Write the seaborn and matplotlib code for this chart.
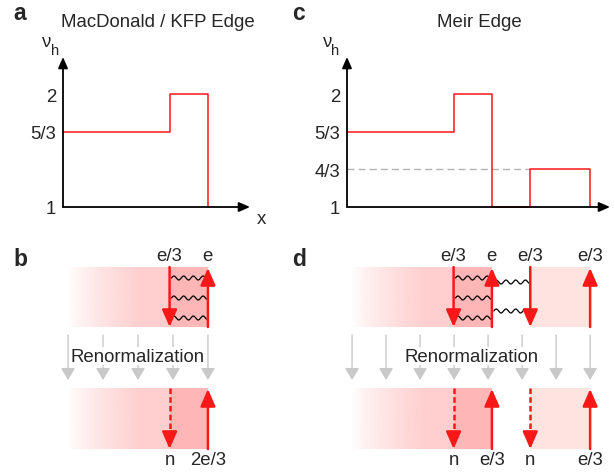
import numpy as np
import matplotlib
matplotlib.use("Agg")
import matplotlib.pyplot as plt
from matplotlib.colors import to_rgb
import pandas as pd
import seaborn as sns

# ---------------- data ----------------
# filling factor profile nu_h(x) across the edge (step positions in x units)
kfp_x = [0.0, 5.7, 7.75]
kfp_nu = [5 / 3, 2.0, 1.0]
meir_x = [0.0, 5.7, 7.75, 9.8, 13.0]
meir_nu = [5 / 3, 2.0, 1.0, 4 / 3, 1.0]

kfp_ticks = [1.0, 5 / 3, 2.0]
kfp_ticklabels = ["1", "5/3", "2"]
meir_ticks = [1.0, 4 / 3, 5 / 3, 2.0]
meir_ticklabels = ["1", "4/3", "5/3", "2"]

# edge modes at each step (direction, charge label) before / after renormalization
kfp_bare = [("down", "e/3"), ("up", "e")]
kfp_renorm = [("neutral", "n"), ("up", "2e/3")]
meir_bare = [("down", "e/3"), ("up", "e"), ("down", "e/3"), ("up", "e/3")]
meir_renorm = [("neutral", "n"), ("up", "e/3"), ("neutral", "n"), ("up", "e/3")]

# interacting pairs of modes (edge index i, edge index j, number of wiggles)
kfp_links = [(0, 1, 3)]
meir_links = [(0, 1, 3), (1, 2, 2)]

# ---------------- style ----------------
sns.set_theme(style="white")
plt.rcParams["font.family"] = ["Liberation Sans", "DejaVu Sans"]
FS = 13.4
RED = "#f81818"
GREY = "#c9c9c9"
FILL = {6: "#ffb6b6", 5: "#ffcfcf", 4: "#ffe3e1"}  # keyed by 3*nu

W, H = 615, 477
PX = 18.7  # pixels per x unit
fig = plt.figure(figsize=(W / 100, H / 100), dpi=100)


def rect(left, top, width, height):
    return [left / W, 1 - (top + height) / H, width / W, height / H]


def ftext(x, y, s, **kw):
    fig.text(x / W, 1 - y / H, s, **kw)


# ---------------- top panels: nu_h profiles ----------------
def profile_panel(left, width, xs, nus, ticks, ticklabels, dashed_level=None):
    ax = fig.add_axes(rect(left, 58, width, 150))
    df = pd.DataFrame({"x": xs, "nu": nus})
    sns.lineplot(data=df, x="x", y="nu", ax=ax, drawstyle="steps-post",
                 color=RED, lw=1.1, estimator=None, sort=False, clip_on=False,
                 zorder=2)
    if dashed_level is not None:
        lvl, x_end = dashed_level
        ax.plot([0, x_end], [lvl, lvl], color="#b3b3b3", lw=1.0,
                ls=(0, (5, 3)), zorder=1)
    ax.set_xlim(0, width / PX)
    ax.set_ylim(1, 1 + 150 / 113)
    ax.set_xlabel("")
    ax.set_ylabel("")
    ax.set_xticks([])
    ax.set_yticks(ticks)
    ax.set_yticklabels(ticklabels)
    ax.tick_params(axis="y", length=0, pad=5, labelsize=FS)
    for s in ax.spines.values():
        s.set_visible(False)
    ap = dict(arrowstyle="-|>,head_length=0.55,head_width=0.24",
              mutation_scale=12, lw=1.3, color="black", shrinkA=0, shrinkB=0)
    ax.annotate("", xy=(0, 1), xytext=(0, 0), xycoords="axes fraction",
                arrowprops=ap, annotation_clip=False, zorder=6)
    ax.annotate("", xy=(1, 0), xytext=(0, 0), xycoords="axes fraction",
                arrowprops=ap, annotation_clip=False, zorder=6)
    return ax


profile_panel(63, 187, kfp_x, kfp_nu, kfp_ticks, kfp_ticklabels)
profile_panel(347, 263, meir_x, meir_nu, meir_ticks, meir_ticklabels,
              dashed_level=(meir_nu[3], meir_x[3]))

# axis labels, titles, panel letters
for x0 in (42, 323):
    ftext(x0, 47, "ν", fontsize=FS, ha="left", va="baseline")
    ftext(x0 + 8.5, 55, "h", fontsize=FS * 0.8, ha="left", va="baseline")
ftext(261, 224, "x", fontsize=FS, ha="center", va="baseline")
ftext(158, 27, "MacDonald / KFP Edge", fontsize=FS, ha="center", va="baseline")
ftext(479, 27, "Meir Edge", fontsize=FS, ha="center", va="baseline")
for letter, (lx, ly) in {"a": (13, 19.5), "c": (292, 19.5),
                         "b": (13, 266), "d": (292, 266)}.items():
    ftext(lx, ly, letter, fontsize=16.5, fontweight="bold",
          ha="left", va="baseline")

# ---------------- bottom panels: edge modes ----------------
TOP_BAND = (268, 328)
BOT_BAND = (389, 450)
BAND_START = 0.27


def fill_band(ax, xs, nus, band):
    y_top, y_bot = band
    for i in range(len(xs) - 1):
        key = int(round(3 * nus[i]))
        if key not in FILL:
            continue
        c = to_rgb(FILL[key])
        if i == 0:
            x0, x1 = BAND_START, xs[1]
            n = 400
            gx = np.linspace(x0, x1, n)
            t = np.clip((gx - x0) / (72 / PX), 0, 1) ** 0.75
            img = np.ones((1, n, 4))
            img[..., :3] = c
            img[0, :, 3] = t
            ax.imshow(img, extent=(x0, x1, y_bot, y_top), aspect="auto",
                      interpolation="bilinear", zorder=0)
        else:
            ax.fill_between([xs[i], xs[i + 1]], y_top, y_bot, color=c,
                            lw=0, zorder=0)


def red_arrow(ax, x, tail, tip, dashed=False):
    hp = dict(arrowstyle="-|>,head_length=0.8,head_width=0.35",
              mutation_scale=13, lw=1.8, color=RED, shrinkA=0, shrinkB=0)
    if dashed:
        sgn = 1 if tip > tail else -1
        ax.plot([x, x], [tail, tip - sgn * 12], color=RED, lw=1.8,
                ls=(0, (2.2, 1.3)), solid_capstyle="butt", zorder=3)
        ax.annotate("", xy=(x, tip), xytext=(x, tip - sgn * 11),
                    arrowprops=hp, zorder=3)
    else:
        ax.annotate("", xy=(x, tip), xytext=(x, tail), arrowprops=hp,
                    zorder=3)


def draw_modes(ax, edges, modes, band, label_y):
    y_top, y_bot = band
    for x, (kind, lab) in zip(edges, modes):
        if kind == "up":
            red_arrow(ax, x, y_bot, y_top + 1)
        elif kind == "down":
            red_arrow(ax, x, y_top, y_bot)
        else:
            red_arrow(ax, x, y_top, y_bot, dashed=True)
        ax.text(x, label_y, lab, fontsize=FS, ha="center", va="baseline")


def wiggle(ax, xa, xb, y):
    x0, x1 = xa + 0.1, xb - 0.08
    wx = np.linspace(x0, x1, 200)
    wy = y - 2.0 * np.sin(2 * np.pi * (wx - x0) / 0.52)
    ax.plot(wx, wy, color="black", lw=0.9, zorder=2)


def edge_panel(left, width, xs, nus, bare, renorm, links):
    ax = fig.add_axes(rect(left, 245, width, 230))
    edges = xs[1:]
    fill_band(ax, xs, nus, TOP_BAND)
    fill_band(ax, xs, nus, BOT_BAND)
    draw_modes(ax, edges, bare, TOP_BAND, 261)
    draw_modes(ax, edges, renorm, BOT_BAND, 465)
    rows = {3: [279, 299, 319], 2: [283, 312]}
    for i, j, k in links:
        for y in rows[k]:
            wiggle(ax, edges[i], edges[j], y)
    # renormalization flow arrows
    n = int(round((edges[-1] - BAND_START) / 1.85)) + 1
    gx = np.linspace(BAND_START, edges[-1], n)
    for x in gx:
        ax.annotate("", xy=(x, 381), xytext=(x, 336),
                    arrowprops=dict(arrowstyle="-|>,head_length=0.6,head_width=0.36",
                                    mutation_scale=12, lw=1.0, color=GREY,
                                    shrinkA=0, shrinkB=0), zorder=1)
    ax.text(gx.mean(), 361.5, "Renormalization", fontsize=FS, ha="center",
            va="baseline", zorder=5,
            bbox=dict(facecolor="white", edgecolor="none", pad=0.6))
    ax.set_xlim(0, width / PX)
    ax.set_ylim(475, 245)
    ax.axis("off")
    return ax


edge_panel(63, 187, kfp_x, kfp_nu, kfp_bare, kfp_renorm, kfp_links)
edge_panel(347, 263, meir_x, meir_nu, meir_bare, meir_renorm, meir_links)

fig.savefig("out.png", dpi=100)
